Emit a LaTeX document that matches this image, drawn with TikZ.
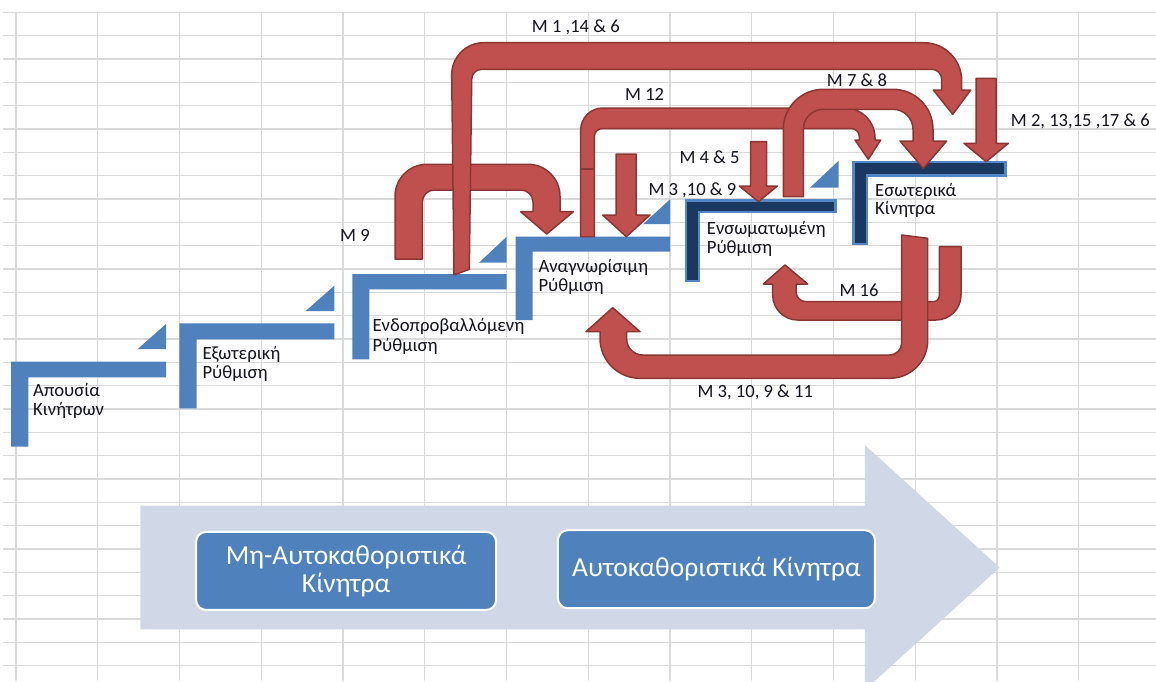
\documentclass[tikz,border=0pt]{standalone}
\usepackage{fontspec}
\setmainfont{Carlito}
\definecolor{gridc}{RGB}{218,218,218}
\definecolor{stepblue}{RGB}{79,129,189}
\definecolor{navy}{RGB}{27,56,96}
\definecolor{navyedge}{RGB}{84,135,200}
\definecolor{arrred}{RGB}{192,80,77}
\definecolor{arredge}{RGB}{140,54,52}
\definecolor{pale}{RGB}{208,216,232}
\definecolor{txt}{RGB}{20,20,30}
\begin{document}
\begin{tikzpicture}[x=1pt,y=-1pt,
  gridline/.style={draw=gridc, line width=1.3pt},
  lstep/.style={fill=stepblue},
  dstep/.style={fill=navy, draw=navyedge, line width=2.4pt},
  tri/.style={fill=stepblue},
  redarr/.style={fill=arrred, draw=arredge, line width=1.5pt, line join=round},
  steptext/.style={anchor=base west, inner sep=0pt, font=\fontsize{18.7}{18.7}\selectfont, text=txt},
  mlabel/.style={anchor=base west, inner sep=0pt, font=\fontsize{18.6}{18.6}\selectfont, text=txt},
  bbox/.style={fill=stepblue, draw=white, line width=2pt, rounded corners=10pt, text=white, align=center, font=\fontsize{27.5}{27.7}\selectfont, inner sep=0pt},
  bigarrow/.style={fill=pale}
]
\useasboundingbox (0,0) rectangle (1156,681);
\clip (0,0) rectangle (1156,681);
\fill[white] (0,0) rectangle (1156,681);
% grid
\foreach \k in {0,...,28} \draw[gridline] (3,{12.3+23.33*\k}) -- (1156,{12.3+23.33*\k});
\foreach \k in {0,...,13} \draw[gridline] ({16+81.75*\k},12.3) -- ({16+81.75*\k},681);
% big arrow
\path[bigarrow] (140.3,505.7) -- (864.8,505.7) -- (864.8,445) -- (999.7,567.5) -- (864.8,690) -- (864.8,629.3) -- (140.3,629.3) -- cycle;
\node[bbox, minimum width=300pt, minimum height=78pt] (nonself) at (346.1,570.9) {Μη-Αυτοκαθοριστικά\\Κίνητρα};
\node[bbox, minimum width=317pt, minimum height=78pt] (self) at (716.4,569.2) {Αυτοκαθοριστικά Κίνητρα};
% steps
\path[lstep] (11,361.7) -- (166,361.7) -- (166,377.3) -- (28.3,377.3) -- (28.3,446.7) -- (11,446.7) -- cycle;
\path[tri] (137.7,349) -- (166,349) -- (166,324) -- cycle;
\path[lstep] (179.3,323.3) -- (334.3,323.3) -- (334.3,339.3) -- (196.7,339.3) -- (196.7,408.3) -- (179.3,408.3) -- cycle;
\path[tri] (305.7,311) -- (334.3,311) -- (334.3,285.7) -- cycle;
\path[lstep] (352.3,274) -- (506.7,274) -- (506.7,289.3) -- (369.3,289.3) -- (369.3,359.3) -- (352.3,359.3) -- cycle;
\path[tri] (479,262.7) -- (506.7,262.7) -- (506.7,236.7) -- cycle;
\path[lstep] (515.7,236.5) -- (670,236.5) -- (670,251.7) -- (532.7,251.7) -- (532.7,320) -- (515.7,320) -- cycle;
\path[tri] (643.3,224) -- (670,224) -- (670,199.3) -- cycle;
\path[dstep] (686.2,200.5) -- (835.5,200.5) -- (835.5,212.1) -- (698.8,212.1) -- (698.8,280.8) -- (686.2,280.8) -- cycle;
\path[tri] (810,187.7) -- (838.7,187.7) -- (838.7,160.7) -- cycle;
\path[dstep] (853.5,162.2) -- (1005.5,162.2) -- (1005.5,175.5) -- (867.1,175.5) -- (867.1,243.8) -- (853.5,243.8) -- cycle;
% step texts
\node[steptext] (s1a) at (33,396.7) {Απουσία};
\node[steptext] (s1b) at (33,415) {Κινήτρων};
\node[steptext] (s2a) at (202.3,359.3) {Εξωτερική};
\node[steptext] (s2b) at (202.3,378) {Ρύθμιση};
\node[steptext] (s3a) at (372.3,331.5) {Ενδοπροβαλλόμενη};
\node[steptext] (s3b) at (372.3,351) {Ρύθμιση};
\node[steptext] (s4a) at (538.3,272.7) {Αναγνωρίσιμη};
\node[steptext] (s4b) at (538.3,291) {Ρύθμιση};
\node[steptext] (s5a) at (706.7,234.5) {Ενσωματωμένη};
\node[steptext] (s5b) at (706.7,253) {Ρύθμιση};
\node[steptext] (s6a) at (875,196) {Εσωτερικά};
\node[steptext] (s6b) at (875,214) {Κίνητρα};
% red arrows
\path[redarr] (395,259) -- (395,196.3) .. controls (395,178.6) and (409.3,164.3) .. (427,164.3) -- (528,164.3) .. controls (545.7,164.3) and (560,178.6) .. (560,196.3) -- (560,211.7) -- (573.3,211.7) -- (546.7,234) -- (520.7,211.7) -- (533,211.7) -- (533,202) .. controls (533,195.4) and (527.6,190) .. (521,190) -- (434.3,190) .. controls (427.7,190) and (422.3,195.4) .. (422.3,202) -- (422.3,259) -- cycle;
\path[redarr] (454,275) -- (451.7,74.7) .. controls (451.7,57) and (466,42.7) .. (483.7,42.7) -- (923.7,42.7) .. controls (944.7,42.7) and (961.7,59.7) .. (961.7,80.7) -- (961.7,90) -- (970.7,90) -- (952.7,114.3) -- (933.3,90) -- (941.7,90) -- (941.7,79.3) .. controls (941.7,73.8) and (937.2,69.3) .. (931.7,69.3) -- (481.7,69.3) .. controls (476.2,69.3) and (471.7,73.8) .. (471.7,79.3) -- (469.3,269.3) -- cycle;
\path[redarr] (580.7,236.7) -- (580.7,130) .. controls (580.7,117.9) and (590.6,108) .. (602.7,108) -- (845,108) .. controls (861.6,108) and (875,121.4) .. (875,138) -- (875,140) -- (880.7,140) -- (868.3,159.3) -- (855,140) -- (859.3,140) -- (859.3,136.5) .. controls (859.3,132.1) and (855.7,128.5) .. (851.3,128.5) -- (602.3,128.5) .. controls (597.9,128.5) and (594.3,132.1) .. (594.3,136.5) -- (594.3,236.7) -- cycle;
\draw[arredge, line width=1.2pt] (580.7,169) -- (594.3,169);
\path[redarr] (783.3,196.7) -- (783.3,129.3) .. controls (783.3,107.2) and (801.2,89.3) .. (823.3,89.3) -- (893,89.3) .. controls (915.1,89.3) and (933,107.2) .. (933,129.3) -- (933,141) -- (946.7,141) -- (923.3,168.3) -- (900,141) -- (913,141) -- (913,129.3) .. controls (913,118.3) and (904,109.3) .. (893,109.3) -- (823.3,109.3) .. controls (812.3,109.3) and (803.3,118.3) .. (803.3,129.3) -- (803.3,196.7) -- cycle;
\path[redarr] (750.7,141.7) -- (766.7,141.7) -- (766.7,186) -- (777.3,186) -- (758.5,201.7) -- (739.3,186) -- (750.7,186) -- cycle;
\path[redarr] (616,154) -- (636,154) -- (636,215) -- (650,215) -- (626.3,236.7) -- (602.7,215) -- (616,215) -- cycle;
\path[redarr] (976,78.3) -- (996,78.3) -- (996,143.3) -- (1008.3,143.3) -- (986.2,161.7) -- (964,143.3) -- (976,143.3) -- cycle;
\path[redarr] (939.3,246.7) -- (961,246.7) -- (961,295) .. controls (961,308.8) and (949.8,320) .. (936,320) -- (797.7,320) .. controls (783.9,320) and (772.7,308.8) .. (772.7,295) -- (772.7,284) -- (763.3,284) -- (785,265) -- (807.7,284) -- (796,284) -- (796,291.7) .. controls (796,297.2) and (800.5,301.7) .. (806,301.7) -- (933.3,301.7) .. controls (936.6,301.7) and (939.3,299) .. (939.3,295.7) -- cycle;
\path[redarr] (901.7,235) -- (927.7,238.3) -- (927.7,340.3) .. controls (927.7,361.3) and (910.7,378.3) .. (889.7,378.3) -- (640,378.3) .. controls (617.9,378.3) and (600,360.4) .. (600,338.3) -- (600,331.7) -- (586,331.7) -- (612.7,307.7) -- (640,331.7) -- (626.7,331.7) -- (626.7,339) .. controls (626.7,347.8) and (633.9,355) .. (642.7,355) -- (889.7,355) .. controls (896.3,355) and (901.7,349.6) .. (901.7,343) -- cycle;
% labels
\node[mlabel] (l1) at (531.7,32.3) {M 1 ,14 \& 6};
\node[mlabel] (l12) at (625,100.7) {M 12};
\node[mlabel] (l78) at (826.7,86.7) {M 7 \& 8};
\node[mlabel] (l2) at (1010.7,126.7) {M 2, 13,15 ,17 \& 6};
\node[mlabel] (l45) at (679.3,163.3) {M 4 \& 5};
\node[mlabel] (l39) at (648.3,195) {M 3 ,10 \& 9};
\node[mlabel] (l9) at (340,241.5) {M 9};
\node[mlabel] (l16) at (839.3,296) {M 16};
\node[mlabel] (l311) at (697.3,397.3) {M 3, 10, 9 \& 11};
\end{tikzpicture}
\end{document}
